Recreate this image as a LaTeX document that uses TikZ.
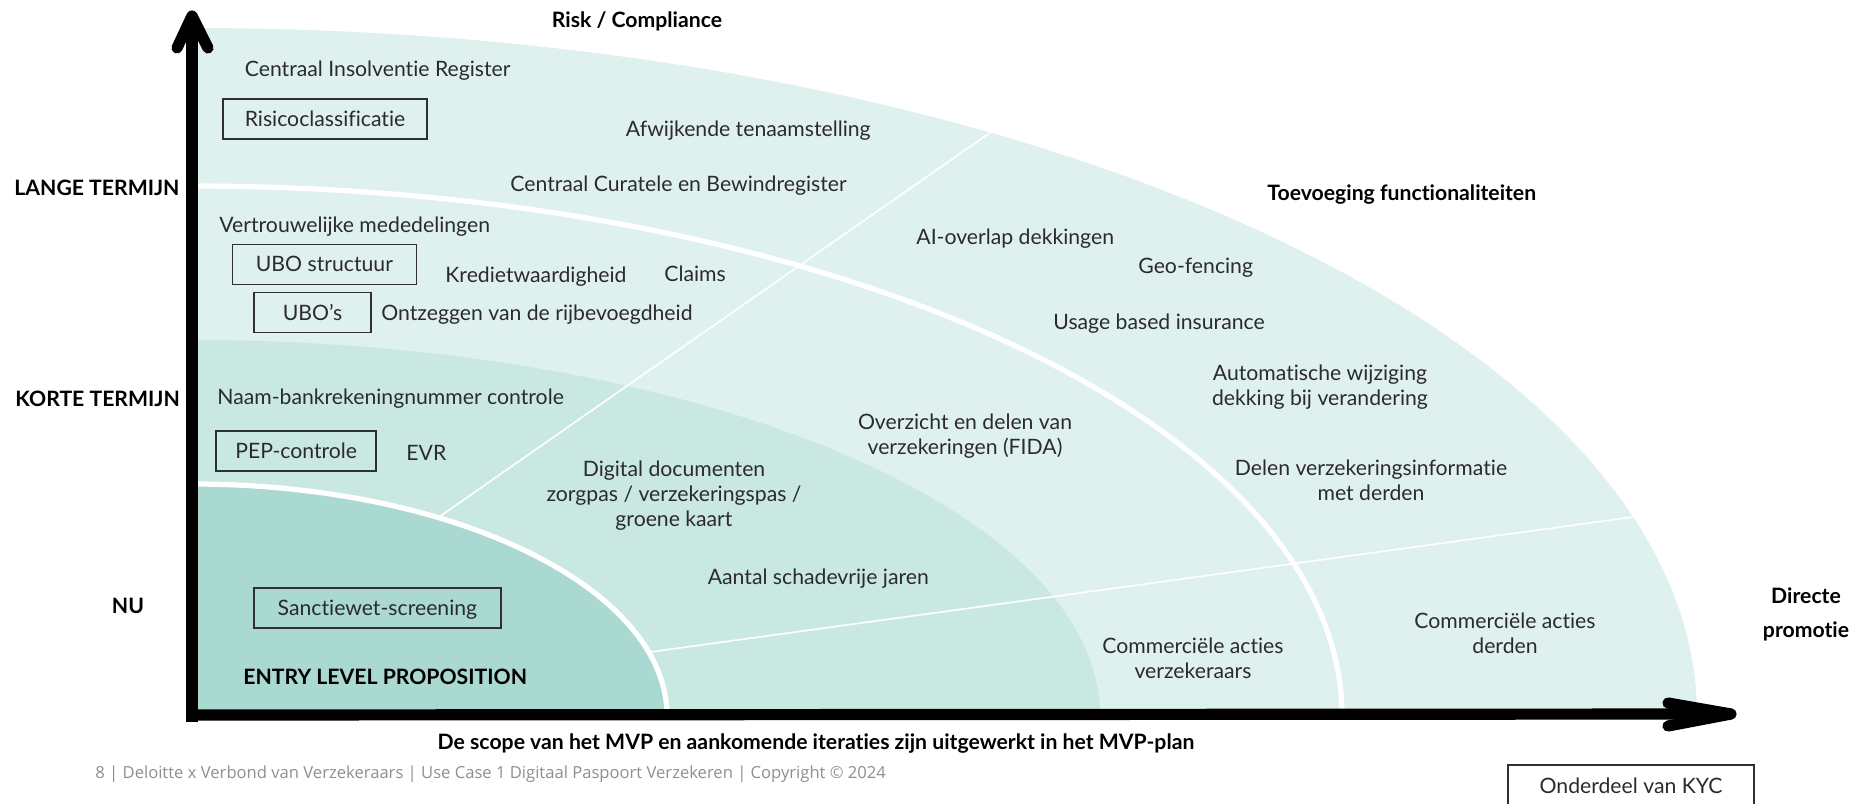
\documentclass[tikz,border=0pt]{standalone}
\usepackage{fontspec}
\setmainfont{Lato}[Ligatures={TeX,NoCommon}]
\newfontfamily\footfont{Open Sans}[Ligatures={TeX,NoCommon}]
\definecolor{lightc}{HTML}{DFF1EE}
\definecolor{medc}{HTML}{CAE8E2}
\definecolor{darkc}{HTML}{A9D9D1}
\definecolor{textc}{HTML}{2B2B2B}
\definecolor{boxc}{HTML}{303030}
\definecolor{footc}{HTML}{8F8F8F}
\begin{document}
\begin{tikzpicture}[x=0.5pt,y=-0.5pt,
  body/.style={font=\fontsize{10.6}{12.5}\selectfont, text=textc, inner sep=0pt},
  item/.style={body, anchor=west, text height=7.6pt, text depth=0pt},
  mitem/.style={body, align=center, anchor=center},
  head/.style={font=\bfseries\fontsize{10.6}{14}\selectfont, text=black, inner sep=0pt, text height=7.5pt, text depth=0pt},
  kbox/.style={body, draw=boxc, line width=0.8pt, inner sep=0pt, minimum height=20pt, text height=7.6pt, text depth=0pt},
  axisline/.style={line width=5.6pt},
  tipline/.style={line width=5.6pt, line cap=round, line join=round},
  sepline/.style={white, line width=2.6pt},
  thinline/.style={white, line width=0.8pt}]
\clip (0,0) rectangle (1861,803);
\fill[white] (0,0) rectangle (1861,803);
\coordinate (O) at (192,716);
% regions
\fill[lightc] (O) -- (1697,716) arc[start angle=0,end angle=-90,x radius=1505,y radius=688] -- cycle;
\fill[medc] (O) -- (1100,716) arc[start angle=0,end angle=-90,x radius=908,y radius=376] -- cycle;
\fill[darkc] (O) -- (667,716) arc[start angle=0,end angle=-90,x radius=475,y radius=232] -- cycle;
% separators
\coordinate (a1) at (439,517);
\coordinate (a2) at (991,132);
\coordinate (b1) at (650,652);
\coordinate (b2) at (1633,517);
\draw[thinline] (a1) -- (a2);
\draw[thinline] (b1) -- (b2);
\draw[sepline] (1342,716) arc[start angle=0,end angle=-90,x radius=1150,y radius=530];
\draw[sepline] (667,716) arc[start angle=0,end angle=-90,x radius=475,y radius=232];
% axes
\coordinate (vb) at (192,722);
\coordinate (vt) at (192,18);
\coordinate (hl) at (186,715);
\coordinate (hr) at (1728,714);
\draw[axisline] (vb) -- (vt);
\draw[tipline] (177,48) -- (192,16) -- (208,48);
\draw[axisline] (hl) -- (hr);
\draw[tipline] (1668,703) -- (1731,714) -- (1668,726);
% headings
\node[head, anchor=center] (rc) at (637,20) {Risk / Compliance};
\node[head, anchor=west] (lt) at (14,188) {LANGE TERMIJN};
\node[head, anchor=west] (tf) at (1267,193) {Toevoeging functionaliteiten};
\node[head, anchor=west] (kt) at (15,399) {KORTE TERMIJN};
\node[head, anchor=center] (nu) at (128,606) {NU};
\node[head, anchor=west] (elp) at (243,677) {ENTRY LEVEL PROPOSITION};
\node[head, anchor=center] (scope) at (816,742) {De scope van het MVP en aankomende iteraties zijn uitgewerkt in het MVP-plan};
\node[font=\bfseries\fontsize{10.6}{17}\selectfont, inner sep=0pt, align=center] (dp) at (1806,614) {Directe\\promotie};
% boxes
\node[kbox, minimum width=102pt] (risk) at (325,118.7) {Risicoclassificatie};
\node[kbox, minimum width=92pt] (ubos) at (324.4,264.3) {UBO structuur};
\node[kbox, minimum width=58.5pt] (ubo) at (312.5,312.5) {UBO’s};
\node[kbox, minimum width=80pt] (pep) at (296.2,450.7) {PEP-controle};
\node[kbox, minimum width=123.5pt] (sanc) at (377.4,607.7) {Sanctiewet-screening};
\node[kbox, anchor=north, minimum width=123pt, minimum height=21pt] (kyc) at (1631,764) {Onderdeel van KYC};
% items
\node[item] (cir) at (244.5,69) {Centraal Insolventie Register};
\node[item] (afw) at (625.5,129) {Afwijkende tenaamstelling};
\node[item] (ccb) at (510,184) {Centraal Curatele en Bewindregister};
\node[item] (ver) at (219,225) {Vertrouwelijke mededelingen};
\node[item] (ai) at (916,237) {AI-overlap dekkingen};
\node[item] (kre) at (445,275) {Kredietwaardigheid};
\node[item] (cla) at (664,274) {Claims};
\node[item] (geo) at (1138,266) {Geo-fencing};
\node[item] (ont) at (381,313) {Ontzeggen van de rijbevoegdheid};
\node[item] (usa) at (1053,322) {Usage based insurance};
\node[item] (naam) at (217,396.5) {Naam-bankrekeningnummer controle};
\node[item] (evr) at (406,453.3) {EVR};
\node[item] (aan) at (707.4,577) {Aantal schadevrije jaren};
\node[mitem] (auto) at (1320,387) {Automatische wijziging\\dekking bij verandering};
\node[mitem] (ovz) at (965,436) {Overzicht en delen van\\verzekeringen (FIDA)};
\node[mitem] (dig) at (674,496) {Digital documenten\\zorgpas / verzekeringspas /\\groene kaart};
\node[mitem] (del) at (1371,480) {Delen verzekeringsinformatie\\met derden};
\node[mitem] (cad) at (1505,633) {Commerciële acties\\derden};
\node[mitem] (cav) at (1193,658) {Commerciële acties\\verzekeraars};
% footer
\node[font=\footfont\fontsize{8.3}{10}\selectfont, text=footc, inner sep=0pt, anchor=west, text height=6pt, text depth=0pt] (foot) at (95,772) {8 | Deloitte x Verbond van Verzekeraars | Use Case 1 Digitaal Paspoort Verzekeren | Copyright © 2024};
\end{tikzpicture}
\end{document}
